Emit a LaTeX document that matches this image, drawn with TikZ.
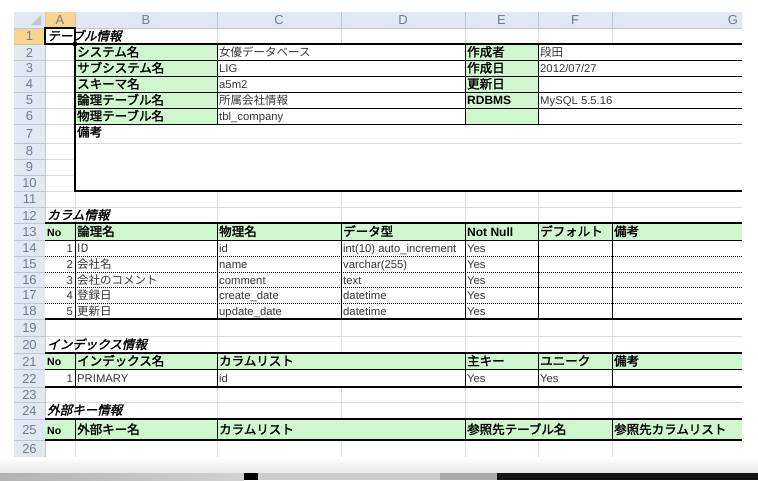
\documentclass[tikz,border=0pt]{standalone}
\usepackage{fontspec}
\setmainfont{Liberation Sans}
\newfontfamily\jp{Noto Sans CJK JP}
\newfontfamily\jpb{Noto Sans CJK JP}[FakeBold=1.8]
\newfontfamily\jpbi{Noto Sans CJK JP}[FakeBold=1.8,FakeSlant=0.25]
\definecolor{gridgray}{RGB}{218,220,224}
\definecolor{hdrbg}{RGB}{226,232,242}
\definecolor{hdrline}{RGB}{190,199,214}
\definecolor{hdrtext}{RGB}{112,124,146}
\definecolor{selorange}{RGB}{249,212,142}
\definecolor{cellgreen}{RGB}{208,246,206}
\definecolor{valtext}{RGB}{55,55,55}
\tikzset{
  grid line/.style={draw=gridgray, line width=0.6pt},
  thin rule/.style={draw=black, line width=0.8pt},
  thick rule/.style={draw=black, line width=1.8pt},
  dot rule/.style={draw=black, line width=0.6pt, dash pattern=on 1pt off 1pt},
  colhdr/.style={inner sep=0pt, text=hdrtext, font=\fontsize{13}{14}\selectfont},
  rowhdr/.style={inner sep=0pt, text=hdrtext, font=\fontsize{13}{14}\selectfont},
  sect/.style={anchor=base west, yshift=-4.5pt, inner sep=0pt, font=\jpbi\fontsize{12.5}{13}\selectfont},
  jplbl/.style={anchor=base west, yshift=-4.5pt, inner sep=0pt, font=\jpb\fontsize{12.5}{13}\selectfont},
  enlbl/.style={anchor=base west, yshift=-4.5pt, inner sep=0pt, font=\bfseries\fontsize{12}{13}\selectfont},
  jpval/.style={anchor=base west, yshift=-4.5pt, inner sep=0pt, text=valtext, font=\jp\fontsize{11.5}{12}\selectfont},
  enval/.style={anchor=base west, yshift=-4.5pt, inner sep=0pt, text=valtext, font=\fontsize{11.3}{12}\selectfont},
  numval/.style={enval, anchor=base east},
  nolbl/.style={enlbl, font=\bfseries\fontsize{10.5}{12}\selectfont},
}
\begin{document}
\begin{tikzpicture}[x=1pt, y=-1pt]
\useasboundingbox (0,0) rectangle (758,480);
\fill[white] (0,0) rectangle (758,480);

% sheet headers
\fill[hdrbg] (14,12) rectangle (742,28);
\fill[hdrbg] (14,28) rectangle (45,457);
\fill[selorange] (45,12) rectangle (75,28);
\fill[selorange] (14,28) rectangle (45,44);
\fill[hdrtext!45] (41,15) -- (41,25) -- (31,25) -- cycle;

% grid
\foreach \y in {44,60,76,92,108,124,143,159,175,191,207,223,240,256,272,287,303,319,336,353,369,387,402,419,440,457}
  \draw[grid line] (45,\y) -- (742,\y);
\foreach \x in {75,217,341,465,538,612}
  \draw[grid line] (\x,28) -- (\x,457);
\foreach \x in {45,75,217,341,465,538,612}
  \draw[hdrline] (\x,12) -- (\x,28);
\foreach \y in {28,44,60,76,92,108,124,143,159,175,191,207,223,240,256,272,287,303,319,336,353,369,387,402,419,440,457}
  \draw[hdrline] (14,\y) -- (45,\y);
\draw[hdrline] (45,12) -- (45,457);
\draw[hdrline] (14,28) -- (742,28);

% column letters
\foreach \c/\x in {A/60,B/146,C/279,D/403,E/501.5,F/575,G/733}
  \node[colhdr] (col\c) at (\x,20.5) {\c};

% row numbers
\foreach \n/\a/\b in {1/28/44,2/44/60,3/60/76,4/76/92,5/92/108,6/108/124,7/124/143,8/143/159,9/159/175,10/175/191,11/191/207,12/207/223,13/223/240,14/240/256,15/256/272,16/272/287,17/287/303,18/303/319,19/319/336,20/336/353,21/353/369,22/369/387,23/387/402,24/402/419,25/419/440,26/440/457}
  \node[rowhdr] (row\n) at (29.5,{(\a+\b)/2+0.5}) {\n};

% table info
\fill[white] (75,44) rectangle (742,191);
\fill[cellgreen] (75,44) rectangle (217,124);
\fill[cellgreen] (465,44) rectangle (538,124);
\draw[grid line] (75,143) -- (742,143);
\foreach \y in {60,76,92,108,124}
  \draw[thin rule] (75,\y) -- (742,\y);
\foreach \x in {217,465,538}
  \draw[thin rule] (\x,44) -- (\x,124);
\draw[thick rule] (742,44) -- (75,44) -- (75,191) -- (742,191);

\node[sect] (tblinfo) at (47,36) {テーブル情報};
\draw[black, line width=1.6pt] (45,28) rectangle (75,44);
\fill[black] (73,42) rectangle (77,46);

\node[jplbl] (sysname) at (77,52) {システム名};
\node[jplbl] (subsys) at (77,68) {サブシステム名};
\node[jplbl] (schema) at (77,84) {スキーマ名};
\node[jplbl] (logtbl) at (77,100) {論理テーブル名};
\node[jplbl] (phytbl) at (77,116) {物理テーブル名};
\node[jpval] (sysval) at (219,52) {女優データベース};
\node[enval] (subval) at (219,68) {LIG};
\node[enval] (schval) at (219,84) {a5m2};
\node[jpval] (logval) at (219,100) {所属会社情報};
\node[enval] (phyval) at (219,116) {tbl\_company};
\node[jplbl] (author) at (467,52) {作成者};
\node[jplbl] (created) at (467,68) {作成日};
\node[jplbl] (updated) at (467,84) {更新日};
\node[enlbl] (rdbms) at (467,100) {RDBMS};
\node[jpval] (authval) at (540,52) {段田};
\node[enval] (crval) at (540,68) {2012/07/27};
\node[enval] (dbval) at (540,100) {MySQL 5.5.16};
\node[jplbl] (remark) at (77,132) {備考};

% column info
\node[sect] (colinfo) at (47,215) {カラム情報};
\fill[cellgreen] (45,223) rectangle (742,240);
\fill[white] (45,240) rectangle (742,319);
\foreach \y in {256,272,287,303}
  \draw[dot rule] (45,\y) -- (742,\y);
\draw[thin rule] (45,240) -- (742,240);
\foreach \x in {75,217,341,465,538,612}
  \draw[thin rule] (\x,223) -- (\x,319);
\draw[thick rule] (45,223) -- (742,223);
\draw[thick rule] (45,319) -- (742,319);

\node[nolbl] (colno) at (47,231.5) {No};
\node[jplbl] (hlog) at (77,231.5) {論理名};
\node[jplbl] (hphy) at (219,231.5) {物理名};
\node[jplbl] (htype) at (343,231.5) {データ型};
\node[enlbl] (hnn) at (467,231.5) {Not Null};
\node[jplbl] (hdef) at (540,231.5) {デフォルト};
\node[jplbl] (hrem) at (614,231.5) {備考};
\foreach \i/\y/\lg/\ph/\ty in {1/248/ID/id/{int(10) auto\_increment},2/264/会社名/name/{varchar(255)},3/279.5/会社のコメント/comment/text,4/295/登録日/create\_date/datetime,5/311/更新日/update\_date/datetime} {
  \node[numval] (no\i) at (73,\y) {\i};
  \node[jpval] (lg\i) at (77,\y) {\lg};
  \node[enval] (ph\i) at (219,\y) {\ph};
  \node[enval] (ty\i) at (343,\y) {\ty};
  \node[enval] (nn\i) at (467,\y) {Yes};
}

% index info
\node[sect] (idxinfo) at (47,344.5) {インデックス情報};
\fill[cellgreen] (45,353) rectangle (742,369);
\fill[white] (45,369) rectangle (742,387);
\draw[thin rule] (45,369) -- (742,369);
\foreach \x in {75,217,465,538,612}
  \draw[thin rule] (\x,353) -- (\x,387);
\draw[thick rule] (45,353) -- (742,353);
\draw[thick rule] (45,387) -- (742,387);

\node[nolbl] (ixno) at (47,361) {No};
\node[jplbl] (ixname) at (77,361) {インデックス名};
\node[jplbl] (ixcols) at (219,361) {カラムリスト};
\node[jplbl] (ixpk) at (467,361) {主キー};
\node[jplbl] (ixuq) at (540,361) {ユニーク};
\node[jplbl] (ixrem) at (614,361) {備考};
\node[numval] (ixno1) at (73,378) {1};
\node[enval] (ixname1) at (77,378) {PRIMARY};
\node[enval] (ixcols1) at (219,378) {id};
\node[enval] (ixpk1) at (467,378) {Yes};
\node[enval] (ixuq1) at (540,378) {Yes};

% foreign key info
\node[sect] (fkinfo) at (47,410) {外部キー情報};
\fill[cellgreen] (45,419) rectangle (742,440);
\foreach \x in {75,217,465,612}
  \draw[thin rule] (\x,419) -- (\x,440);
\draw[thick rule] (45,419) -- (742,419);
\draw[thick rule] (45,440) -- (742,440);

\node[nolbl] (fkno) at (47,429.5) {No};
\node[jplbl] (fkname) at (77,429.5) {外部キー名};
\node[jplbl] (fkcols) at (219,429.5) {カラムリスト};
\node[jplbl] (fkreftbl) at (467,429.5) {参照先テーブル名};
\node[jplbl] (fkrefcols) at (614,429.5) {参照先カラムリスト};

% bottom edge
\shade[top color=white, bottom color=gray!18] (0,457) rectangle (758,473);
\shade[left color=gray!60, right color=gray!35] (0,473) rectangle (244,480);
\fill[black] (244,473) rectangle (258,480);
\fill[gray!40] (258,473) rectangle (440,480);
\fill[gray!65] (440,473) rectangle (497,480);
\fill[black!92] (497,473) rectangle (758,480);
\end{tikzpicture}
\end{document}
